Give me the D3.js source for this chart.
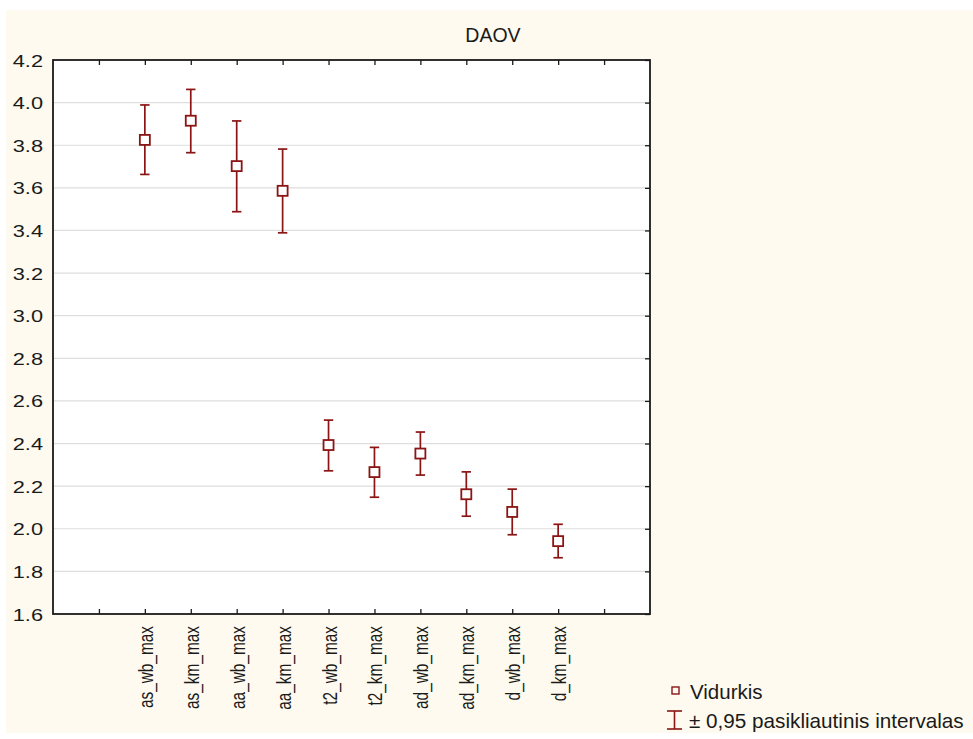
<!DOCTYPE html>
<html>
<head>
<meta charset="utf-8">
<script src="https://cdn.jsdelivr.net/npm/d3@7"></script>
<style>
  body { margin: 0; background: #ffffff; }
  svg { display: block; font-family: Arial, "Liberation Sans", sans-serif; }
</style>
</head>
<body>
<svg id="chart" width="973" height="739"></svg>
<script>
// Variables and their means with 0.95 confidence bounds
const categories = ["as_wb_max", "as_km_max", "aa_wb_max", "aa_km_max", "t2_wb_max",
                    "t2_km_max", "ad_wb_max", "ad_km_max", "d_wb_max", "d_km_max"];
const means = [3.825, 3.915, 3.702, 3.586, 2.393, 2.266, 2.353, 2.162, 2.079, 1.942];
const upper = [3.989, 4.062, 3.914, 3.782, 2.510, 2.382, 2.454, 2.267, 2.186, 2.021];
const lower = [3.663, 3.765, 3.488, 3.389, 2.272, 2.148, 2.252, 2.059, 1.972, 1.864];
const yTicks = [1.6, 1.8, 2.0, 2.2, 2.4, 2.6, 2.8, 3.0, 3.2, 3.4, 3.6, 3.8, 4.0, 4.2];

const svg = d3.select("#chart");
const dark = "#8b1414";
const ink = "#1a1a1a";
const stretch = 1.32;   // axis lettering is drawn wide

// cream page background
svg.append("rect").attr("x", 6).attr("y", 10).attr("width", 967).attr("height", 723)
  .attr("fill", "#fefaef");

const pL = 53, pR = 650, pT = 60, pB = 614;

// x positions: 13 slots, categories occupy slots 2..11, ticks at 1..12
const x = d3.scaleLinear().domain([0, 13]).range([pL, pR]);
const y = d3.scaleLinear().domain([1.6, 4.2]).range([pB, pT]);

svg.append("rect").attr("x", pL).attr("y", pT).attr("width", pR - pL).attr("height", pB - pT)
  .attr("fill", "#ffffff");

// horizontal gridlines
svg.append("g").selectAll("line").data(yTicks.slice(1, -1)).join("line")
  .attr("x1", pL).attr("x2", pR)
  .attr("y1", d => y(d)).attr("y2", d => y(d))
  .attr("stroke", "#dedede").attr("stroke-width", 1.2);

const xTickVals = d3.range(1, 13);

// bottom axis: inward ticks, labels drawn separately
svg.append("g").attr("transform", `translate(0,${pB})`)
  .call(d3.axisBottom(x).tickValues(xTickVals).tickSize(-5).tickFormat(""))
  .call(g => g.select(".domain").remove())
  .call(g => g.selectAll("line").attr("stroke", ink).attr("stroke-width", 1.3));
// top axis
svg.append("g").attr("transform", `translate(0,${pT})`)
  .call(d3.axisTop(x).tickValues(xTickVals).tickSize(-5).tickFormat(""))
  .call(g => g.select(".domain").remove())
  .call(g => g.selectAll("line").attr("stroke", ink).attr("stroke-width", 1.3));
// right axis ticks
svg.append("g").attr("transform", `translate(${pR},0)`)
  .call(d3.axisRight(y).tickValues(yTicks).tickSize(-5).tickFormat(""))
  .call(g => g.select(".domain").remove())
  .call(g => g.selectAll("line").attr("stroke", ink).attr("stroke-width", 1.3));
// left axis: tick values, widened lettering
const yAxis = svg.append("g").attr("transform", `translate(${pL},0)`)
  .call(d3.axisLeft(y).tickValues(yTicks).tickSize(0).tickFormat(""))
  .call(g => g.select(".domain").remove());
yAxis.selectAll(".tick").append("text")
  .attr("transform", `translate(-10,6) scale(${stretch},1)`)
  .attr("text-anchor", "end")
  .attr("fill", ink).attr("font-size", 16.5)
  .attr("font-family", "Arial, 'Liberation Sans', sans-serif")
  .text(d => d3.format(".1f")(d));

// frame
svg.append("rect").attr("x", pL).attr("y", pT).attr("width", pR - pL).attr("height", pB - pT)
  .attr("fill", "none").attr("stroke", ink).attr("stroke-width", 1.8);

// category labels, rotated
svg.append("g").selectAll("text").data(categories).join("text")
  .attr("transform", (d, i) => `translate(${x(i + 2) + 8},${pB + 12}) scale(${stretch},1) rotate(-90)`)
  .attr("text-anchor", "end")
  .attr("font-size", 15.4).attr("fill", ink)
  .text(d => d);

// error bars
const cap = 4.7;
const bars = svg.append("g").attr("stroke", dark).attr("stroke-width", 1.7).attr("fill", "none");
categories.forEach((c, i) => {
  const cx = x(i + 2);
  bars.append("line").attr("x1", cx).attr("x2", cx).attr("y1", y(upper[i])).attr("y2", y(lower[i]));
  bars.append("line").attr("x1", cx - cap).attr("x2", cx + cap).attr("y1", y(upper[i])).attr("y2", y(upper[i]));
  bars.append("line").attr("x1", cx - cap).attr("x2", cx + cap).attr("y1", y(lower[i])).attr("y2", y(lower[i]));
});

// mean markers
const s = 10;
svg.append("g").selectAll("rect").data(means).join("rect")
  .attr("x", (d, i) => x(i + 2) - s / 2).attr("y", d => y(d) - s / 2)
  .attr("width", s).attr("height", s)
  .attr("fill", "#ffffff").attr("stroke", dark).attr("stroke-width", 1.8);

// title
svg.append("text").attr("x", 493).attr("y", 42).attr("text-anchor", "middle")
  .attr("font-size", 19.5).attr("fill", ink).text("DAOV");

// legend
const lg = svg.append("g");
lg.append("rect").attr("x", 672).attr("y", 687).attr("width", 7).attr("height", 7)
  .attr("fill", "none").attr("stroke", dark).attr("stroke-width", 1.4);
lg.append("text").attr("x", 690).attr("y", 699).attr("font-size", 20.5).attr("fill", ink).text("Vidurkis");
lg.append("line").attr("x1", 674.5).attr("x2", 674.5).attr("y1", 711).attr("y2", 729).attr("stroke", dark).attr("stroke-width", 1.6);
lg.append("line").attr("x1", 667).attr("x2", 682).attr("y1", 711).attr("y2", 711).attr("stroke", dark).attr("stroke-width", 1.6);
lg.append("line").attr("x1", 667).attr("x2", 682).attr("y1", 729).attr("y2", 729).attr("stroke", dark).attr("stroke-width", 1.6);
lg.append("text").attr("x", 689).attr("y", 728).attr("font-size", 20.7).attr("fill", ink)
  .text("\u00B1 0,95 pasikliautinis intervalas");
</script>
</body>
</html>
